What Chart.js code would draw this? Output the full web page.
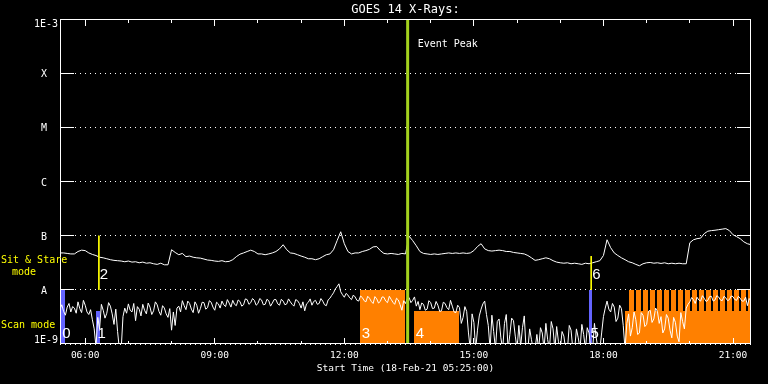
<!DOCTYPE html>
<html>
<head>
<meta charset="utf-8">
<title>GOES 14 X-Rays</title>
<script src="https://cdn.jsdelivr.net/npm/chart.js@4.4.1/dist/chart.umd.min.js"></script>
<style>
  html, body { margin: 0; padding: 0; background: #000; }
  #wrap { width: 768px; height: 384px; }
</style>
</head>
<body>
<div id="wrap"><canvas id="goes" width="768" height="384"></canvas></div>
<script>
// GOES 14 X-ray flux, 18-Feb-21, samples from 05:25
// flux values are in units of 1E-9 W/m^2
const startTime = '05:25';
const endTime = '21:25';
const longStep = 5;     // minutes between long channel samples
const shortStep = 2.5;  // minutes between short channel samples

// long channel (upper curve)
const longFlux = [
  48, 48, 47, 46, 46, 51, 54, 53, 48, 45,
  43, 40, 39, 37.5, 36, 35, 34.5, 34, 33, 34,
  32.5, 33, 31.6, 32.5, 31, 31.6, 30.3, 29.5, 31, 29,
  29, 55, 49, 44.5, 47, 41, 42, 40, 39, 38.5,
  37, 35.5, 35, 34, 33.5, 34.5, 33, 33.5, 36, 41,
  45.5, 48, 51, 54, 51, 46, 46, 44.5, 46, 48,
  51, 57, 68, 55, 48, 47, 44.5, 42, 40, 37.5,
  37.5, 36, 37.5, 41, 44.5, 46, 55, 81, 118, 71,
  51, 46, 48, 48, 51, 53, 56, 62, 63, 53,
  47, 46, 47, 46, 45, 47, 46, 98, 81, 65,
  51, 47, 46, 45, 46, 45, 46, 47, 48, 47,
  48, 47, 48, 47, 48, 53, 63, 71, 57, 53,
  52, 53, 54, 53, 51, 51, 49, 48, 47, 46,
  43, 39, 35, 36, 37.5, 39, 37.5, 34.5, 32.5, 31.6,
  31, 31.6, 30.3, 31, 30.3, 29.5, 31, 30.3, 31.6, 33,
  34.5, 43, 84, 60, 48, 43, 39, 36, 33, 31.6,
  29.5, 27.8, 30.3, 31.6, 32, 31, 31.6, 30.7, 31.6, 30.3,
  31, 30.3, 31, 30.3, 30.3, 74, 84, 88, 90, 109,
  121, 124, 126, 129, 132, 135, 124, 104, 96, 88,
  77, 71, 68
];

// short channel (lower curve)
const shortFlux = [
  4.4, 5.3, 4.0, 3.4, 4.8, 5.6, 3.9, 4.9, 4.6, 3.7, 6.0, 4.5, 3.8, 6.4, 5.2, 3.9, 3.5, 4.3, 2.8, 1.9,
  0.9, 3.1, 1.9, 5.4, 4.2, 3.0, 3.7, 5.8, 5.0, 3.6, 2.3, 4.4, 1.7, 0.8, 0.8, 3.2, 4.6, 3.7, 5.5, 4.2,
  3.9, 5.6, 2.7, 4.9, 4.4, 3.3, 5.4, 4.2, 3.6, 5.7, 4.8, 3.5, 4.1, 6.0, 5.3, 4.0, 3.4, 5.1, 4.6, 3.6,
  3.1, 4.5, 1.8, 3.9, 2.2, 4.6, 5.0, 3.9, 6.3, 5.1, 4.3, 6.2, 5.6, 4.4, 3.8, 6.0, 5.2, 3.7, 4.5, 5.9,
  5.8, 4.4, 4.7, 6.3, 5.9, 4.8, 4.2, 5.9, 5.5, 4.6, 6.2, 5.3, 4.9, 6.6, 5.7, 4.8, 6.4, 5.4, 5.1, 6.5,
  6.1, 5.0, 5.3, 6.8, 6.6, 5.4, 5.8, 6.9, 6.4, 5.2, 5.6, 6.9, 6.5, 5.3, 5.4, 6.7, 6.3, 5.0, 5.7, 6.6,
  6.6, 5.5, 5.2, 6.7, 6.2, 5.3, 5.5, 6.8, 6.0, 5.4, 5.0, 6.6, 6.3, 5.6, 4.6, 6.0, 4.1, 5.5, 5.9, 6.8,
  5.2, 6.1, 6.4, 5.4, 5.6, 6.9, 6.2, 5.3, 5.1, 6.5, 7.0, 7.9, 8.8, 10.4, 11.5, 12.9, 9.2, 8.1, 7.3, 8.6,
  8.0, 7.1, 6.6, 8.0, 7.4, 6.4, 6.2, 7.7, 7.2, 6.3, 6.0, 7.6, 7.0, 6.1, 5.6, 7.5, 6.8, 5.7, 6.1, 7.4,
  7.3, 6.2, 5.8, 7.6, 6.7, 5.9, 5.4, 7.0, 6.5, 5.3, 4.2, 6.3, 5.6, 6.9, 7.2, 5.8, 6.4, 7.4, 5.0, 6.1,
  4.3, 5.7, 5.4, 4.2, 4.4, 6.3, 5.8, 4.5, 4.6, 6.1, 5.2, 4.0, 4.1, 5.9, 5.6, 4.7, 4.3, 6.4, 5.0, 3.9,
  3.8, 5.2, 4.7, 2.4, 3.1, 4.9, 4.0, 1.6, 0.8, 3.6, 2.5, 0.8, 1.8, 3.3, 4.4, 5.5, 6.2, 3.5, 2.2, 0.8,
  3.4, 1.7, 0.8, 2.6, 2.9, 1.3, 0.8, 2.4, 3.5, 0.8, 1.5, 3.0, 2.7, 1.4, 0.8, 2.2, 0.9, 2.0, 3.3, 0.8,
  0.8, 1.9, 1.2, 0.8, 0.8, 1.5, 0.8, 2.0, 1.6, 0.8, 2.4, 1.2, 0.8, 2.6, 1.9, 0.8, 2.1, 1.1, 0.8, 1.7,
  1.4, 0.8, 0.8, 2.2, 1.8, 0.8, 0.8, 1.9, 1.3, 0.8, 2.3, 1.5, 0.8, 2.0, 1.6, 0.8, 0.8, 2.4, 1.3, 0.8,
  0.8, 1.6, 3.2, 4.6, 6.2, 4.4, 3.9, 5.6, 4.8, 2.6, 3.0, 5.2, 4.5, 2.2, 0.8, 2.4, 3.6, 1.4, 2.0, 3.9,
  2.8, 1.5, 1.6, 3.8, 3.4, 2.1, 2.3, 4.0, 4.2, 2.5, 2.9, 4.6, 4.0, 2.4, 3.2, 1.6, 1.9, 3.5, 3.0, 1.8,
  1.3, 3.1, 2.5, 1.4, 1.1, 3.8, 2.6, 1.9, 4.6, 5.4, 6.0, 7.2, 6.6, 5.6, 7.3, 6.5, 6.2, 7.8, 7.0, 6.1,
  6.4, 7.5, 7.6, 6.2, 6.5, 7.8, 7.4, 6.5, 6.3, 7.6, 7.1, 6.3, 6.6, 7.7, 7.5, 6.6, 6.4, 7.6, 7.0, 6.2,
  6.2, 7.3, 5.1, 6.9, 6.3
];

const yTickValues = [1e-9, 1e-8, 1e-7, 1e-6, 1e-5, 1e-4, 1e-3];
const yTickLabels = ['1E-9', 'A', 'B', 'C', 'M', 'X', '1E-3'];
const xTickLabels = ['06:00', '09:00', '12:00', '15:00', '18:00', '21:00'];

// scan mode rasters (blue)
const blueStart = ['05:26', '06:15', '17:40'];
const blueEnd = ['05:32', '06:21', '17:44'];
const blueTop = [1e-8, 4.1e-9, 1e-8];
const blueNames = ['0', '1', '5'];

// scan mode rasters (orange)
const orangeStart = ['12:22', '13:37', '18:30'];
const orangeEnd = ['13:24', '14:39', '21:25'];
const orangeTop = [1e-8, 4.1e-9, 4.1e-9];
const orangeNames = ['3', '4', ''];

// repeated short rasters after 18:30
const stripeStart = ['18:35', '18:45', '18:55', '19:05', '19:14', '19:24', '19:34', '19:44', '19:53',
                     '20:03', '20:13', '20:22', '20:32', '20:42', '20:52', '21:01', '21:11', '21:21'];
const stripeEnd = ['18:42', '18:52', '19:02', '19:12', '19:21', '19:31', '19:41', '19:51', '20:00',
                   '20:10', '20:20', '20:29', '20:39', '20:49', '20:59', '21:08', '21:18', '21:28'];

// sit & stare markers (yellow)
const stareTime = ['06:19', '17:43'];
const stareTop = [1e-7, 4.2e-8];
const stareBottom = [1e-8, 1e-8];
const stareNames = ['2', '6'];

const eventPeak = '13:28';

function toMin(s) {
  const p = s.split(':');
  return +p[0] * 60 + +p[1];
}

function fmtTime(v) {
  const h = Math.floor(v / 60), m = Math.round(v % 60);
  return String(h).padStart(2, '0') + ':' + String(m).padStart(2, '0');
}

function series(vals, step) {
  return vals.map((v, i) => ({ x: toMin(startTime) + i * step, y: v * 1e-9 }));
}

const ORANGE = '#ff8000';
const BLUE = '#6464ff';
const MONO = 'DejaVu Sans Mono';

const datasets = [
  { data: series(longFlux, longStep), borderColor: '#fff', borderWidth: 1, order: 2 },
  { data: series(shortFlux, shortStep), borderColor: '#fff', borderWidth: 1, order: 2 },
  { data: [{ x: toMin(eventPeak), y: 1e-9 }, { x: toMin(eventPeak), y: 1e-3 }],
    borderColor: '#a4d21e', borderWidth: 3, order: 1 }
];
stareTime.forEach((t, i) => {
  datasets.push({
    data: [{ x: toMin(t), y: stareTop[i] }, { x: toMin(t), y: stareBottom[i] }],
    borderColor: '#ffff00', borderWidth: 1, order: 1
  });
});

// raster boxes, drawn under the curves
const rasters = {
  id: 'rasters',
  beforeDatasetsDraw(chart) {
    const { ctx, chartArea: a, scales: { x, y } } = chart;
    ctx.save();
    ctx.beginPath();
    ctx.rect(a.left, a.top, a.right - a.left, a.bottom - a.top);
    ctx.clip();
    const draw = (starts, ends, tops, color) => {
      ctx.fillStyle = color;
      starts.forEach((s, i) => {
        const x0 = Math.round(x.getPixelForValue(toMin(s)));
        const x1 = Math.round(x.getPixelForValue(toMin(ends[i])));
        const top = typeof tops === 'number' ? tops : tops[i];
        const y0 = Math.round(y.getPixelForValue(top));
        const y1 = Math.round(y.getPixelForValue(1e-9));
        ctx.fillRect(x0, y0, x1 - x0, y1 - y0);
      });
    };
    draw(orangeStart, orangeEnd, orangeTop, ORANGE);
    draw(stripeStart, stripeEnd, 1e-8, ORANGE);
    draw(blueStart, blueEnd, blueTop, BLUE);
    ctx.restore();
  }
};

// frame, ticks and annotation texts
const decor = {
  id: 'decor',
  afterDatasetsDraw(chart) {
    const { ctx, chartArea: a, scales: { x, y } } = chart;
    ctx.save();
    ctx.strokeStyle = '#fff';
    ctx.lineWidth = 1;
    ctx.strokeRect(a.left + 0.5, a.top + 0.5, a.right - a.left - 1, a.bottom - a.top - 1);
    ctx.beginPath();
    for (let t = Math.ceil(x.min / 60) * 60; t <= x.max; t += 60) {
      const px = Math.round(x.getPixelForValue(t) - 0.5) + 0.5;
      const major = t % 180 === 0;
      ctx.moveTo(px, a.top); ctx.lineTo(px, a.top + (major ? 7 : 4));
      ctx.moveTo(px, a.bottom); ctx.lineTo(px, a.bottom - (major ? 6 : 3));
    }
    yTickValues.slice(1, -1).forEach(v => {
      const py = Math.round(y.getPixelForValue(v) - 0.5) + 0.5;
      ctx.moveTo(a.left, py); ctx.lineTo(a.left + 14, py);
      ctx.moveTo(a.right - 14, py); ctx.lineTo(a.right, py);
    });
    ctx.stroke();

    // y labels
    ctx.fillStyle = '#fff';
    ctx.font = '10px "' + MONO + '"';
    yTickValues.forEach((v, i) => {
      const py = Math.min(Math.max(y.getPixelForValue(v) + 4, a.top + 8), a.bottom - 1);
      const lab = yTickLabels[i];
      if (lab.length > 1) {
        ctx.textAlign = 'right';
        ctx.fillText(lab, a.left - 2, py);
      } else {
        ctx.textAlign = 'center';
        ctx.fillText(lab, a.left - 16, py);
      }
    });

    // title
    ctx.textAlign = 'center';
    ctx.font = '12px "' + MONO + '"';
    ctx.fillText('GOES 14 X-Rays:', (a.left + a.right) / 2, 13);

    // event peak
    ctx.textAlign = 'left';
    ctx.font = '10px "' + MONO + '"';
    ctx.fillText('Event Peak', x.getPixelForValue(toMin(eventPeak)) + 10, a.top + 28);

    // mode labels
    ctx.fillStyle = '#ffff00';
    ctx.fillText('Sit & Stare', 1, 263);
    ctx.fillText('mode', 12, 275);
    ctx.fillText('Scan mode', 1, 328);

    // raster numbers
    ctx.fillStyle = '#fff';
    ctx.font = '15px "Liberation Sans"';
    const boxLabel = (starts, names) => starts.forEach((s, i) => {
      if (names[i]) ctx.fillText(names[i], x.getPixelForValue(toMin(s)) + 1.5, a.bottom - 6);
    });
    boxLabel(blueStart, blueNames);
    boxLabel(orangeStart, orangeNames);
    stareTime.forEach((t, i) => {
      ctx.fillText(stareNames[i], x.getPixelForValue(toMin(t)) + 1, y.getPixelForValue(stareBottom[i]) - 11);
    });
    ctx.restore();
  }
};

new Chart(document.getElementById('goes'), {
  type: 'line',
  data: { datasets: datasets },
  options: {
    responsive: false,
    animation: false,
    devicePixelRatio: 1,
    layout: { padding: { top: 19, right: 17, left: 0, bottom: 0 } },
    plugins: {
      legend: { display: false },
      tooltip: { enabled: false },
      title: { display: false }
    },
    elements: {
      point: { radius: 0 },
      line: { tension: 0 }
    },
    scales: {
      x: {
        type: 'linear',
        min: toMin(startTime),
        max: toMin(endTime),
        afterBuildTicks: s => { s.ticks = xTickLabels.map(l => ({ value: toMin(l) })); },
        afterFit: s => { s.height = 40; },
        grid: { display: false, drawTicks: false },
        border: { display: false },
        ticks: {
          color: '#fff',
          font: { family: MONO, size: 9.5 },
          padding: 6,
          maxRotation: 0,
          autoSkip: false,
          callback: v => fmtTime(v)
        },
        title: {
          display: true,
          text: 'Start Time (18-Feb-21 05:25:00)',
          color: '#fff',
          font: { family: MONO, size: 9.5 },
          padding: { top: 0, bottom: 10 }
        }
      },
      y: {
        type: 'logarithmic',
        min: 1e-9,
        max: 1e-3,
        afterBuildTicks: s => { s.ticks = yTickValues.map(v => ({ value: v })); },
        afterFit: s => { s.width = 60; },
        ticks: { display: false },
        grid: { color: '#fff', lineWidth: 1, drawTicks: false },
        border: { display: false, dash: [1, 4] }
      }
    }
  },
  plugins: [rasters, decor]
});
</script>
</body>
</html>
